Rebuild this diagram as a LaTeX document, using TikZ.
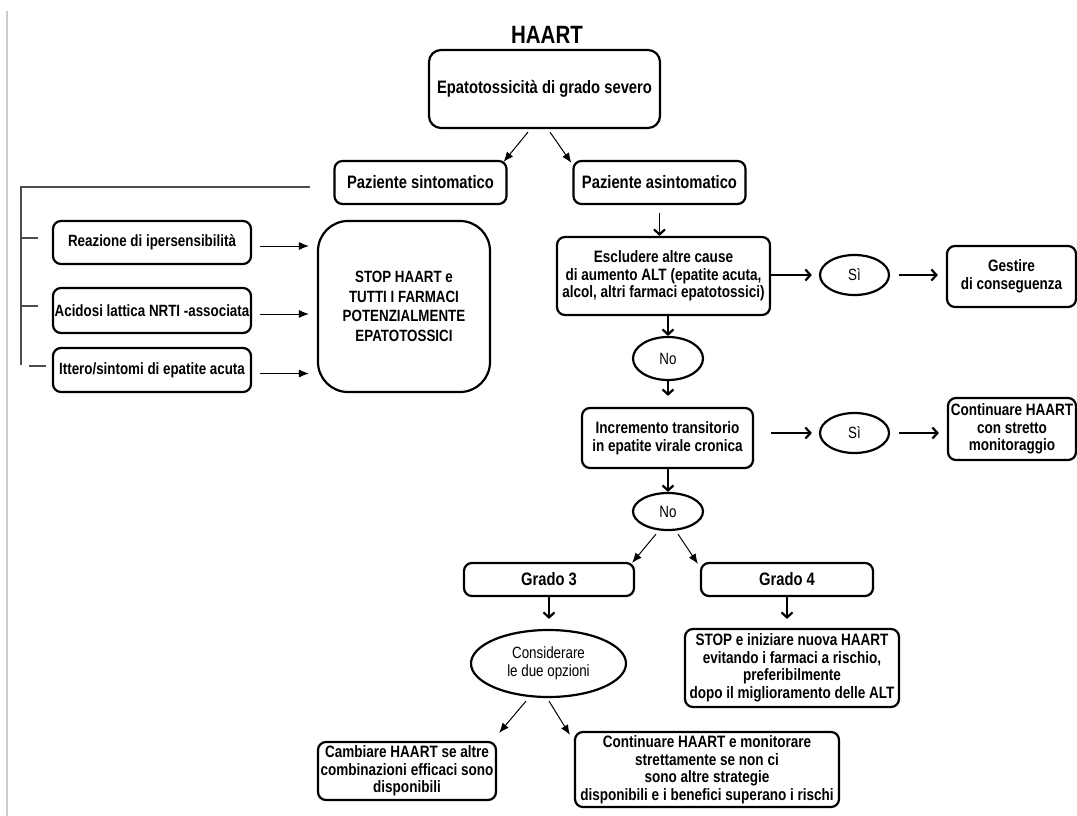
\documentclass[tikz,border=0pt]{standalone}
\usepackage{fontspec}
\setmainfont[FakeStretch=0.82]{Liberation Sans}
\usetikzlibrary{shapes.geometric,arrows.meta,calc}
\tikzset{
  box/.style={draw, line width=2.2pt, rounded corners=8pt, inner sep=0pt, align=center,
    font=\fontsize{16.5}{17.5}\selectfont\bfseries},
  bigtext/.style={font=\fontsize{18}{20}\selectfont\bfseries},
  oval/.style={draw, ellipse, line width=2.2pt, inner sep=0pt, align=center,
    font=\fontsize{16.3}{18}\selectfont},
  tri/.style={line width=1pt, -{Latex[length=10pt,width=8pt]}},
  chev/.style={line width=1.2pt, -{Straight Barb[length=5pt,width=11pt,line width=2.2pt]}},
  brk/.style={line width=1.3pt, draw=black!70},
}
\begin{document}
\begin{tikzpicture}[x=1pt,y=-1pt]
\useasboundingbox (0,0) rectangle (1077,816);
\fill[white] (0,0) rectangle (1077,816);
\draw[line width=1.5pt, black!20] (7,11) -- (7,816);

\node[font=\fontsize{25}{28}\selectfont\bfseries] (title) at (547,35) {HAART};
\node[box, bigtext, rounded corners=12pt, minimum width=231, minimum height=78] (E) at (544.5,89) {Epatotossicità di grado severo};
\node[box, bigtext, minimum width=172, minimum height=43] (PS) at (420.5,182.5) {Paziente sintomatico};
\node[box, bigtext, minimum width=172, minimum height=43] (PA) at (659.5,182.5) {Paziente asintomatico};

% left branch
\node[box, font=\fontsize{16.3}{17.5}\selectfont\bfseries, minimum width=198, minimum height=43] (R1) at (152,242.5) {Reazione di ipersensibilità};
\node[box, font=\fontsize{16.3}{17.5}\selectfont\bfseries, minimum width=198, minimum height=45] (R2) at (152,310.5) {Acidosi lattica NRTI -associata};
\node[box, font=\fontsize{16.3}{17.5}\selectfont\bfseries, minimum width=198, minimum height=44] (R3) at (152,370) {Ittero/sintomi di epatite acuta};
\node[box, font=\fontsize{16.3}{19.5}\selectfont\bfseries, rounded corners=30pt, minimum width=172, minimum height=171] (Stop) at (404,306.5) {STOP HAART e\\TUTTI I FARMACI\\POTENZIALMENTE\\EPATOTOSSICI};

% right branch
\node[box, minimum width=213, minimum height=78] (Esc) at (663.5,276) {Escludere altre cause\\ di aumento ALT (epatite acuta,\\alcol, altri farmaci epatotossici)};
\node[oval, minimum width=69, minimum height=40] (S1) at (854.5,275) {Sì};
\node[box, minimum width=129, minimum height=61] (Ges) at (1011.5,276.5) {Gestire\\di conseguenza};
\node[oval, minimum width=70, minimum height=43] (N1) at (668,358.5) {No};
\node[box, minimum width=171, minimum height=60] (Inc) at (667.5,438) {Incremento transitorio\\in epatite virale cronica};
\node[oval, minimum width=69, minimum height=40] (S2) at (854.5,433) {Sì};
\node[box, minimum width=128, minimum height=62] (C1) at (1012,429) {Continuare HAART\\con stretto\\monitoraggio};
\node[oval, minimum width=70, minimum height=37] (N2) at (668,511.5) {No};
\node[box, bigtext, minimum width=170, minimum height=33] (G3) at (549,579.5) {Grado 3};
\node[box, bigtext, minimum width=172, minimum height=33] (G4) at (787,579.5) {Grado 4};
\node[oval, minimum width=155, minimum height=67] (Cons) at (548.5,663.5) {Considerare\\le due opzioni};
\node[box, minimum width=214, minimum height=78] (St2) at (792,668) {STOP e iniziare nuova HAART\\evitando i farmaci a rischio,\\preferibilmente\\dopo il miglioramento delle ALT};
\node[box, minimum width=178, minimum height=58] (Camb) at (407,771) {Cambiare HAART se altre\\combinazioni efficaci sono\\disponibili};
\node[box, minimum width=264, minimum height=75] (C2) at (707,769.5) {Continuare HAART e monitorare\\strettamente se non ci\\sono altre strategie\\disponibili e i benefici superano i rischi};

% bracket on the left
\coordinate (bA) at (310,187);
\coordinate (bB) at (21,187);
\coordinate (bC) at (21,365);
\draw[brk] (bA) -- (bB) -- (bC);
\draw[brk] (21,238) -- (38,238);
\draw[brk] (21,306) -- (38,306);
\draw[brk] (29,366) -- (46,366);

% connectors
\draw[tri] ($(E.south)+(-16.5,3)$) -- ($(PS.north east)+(-4,2)$);
\draw[tri] ($(E.south)+(5.5,3)$) -- ($(PA.north west)+(-1,3)$);
\foreach \r in {R1,R2,R3}{
  \draw[tri] ($(\r.east)+(8,3.5)$) -- ($(Stop.west |- \r.east)+(-8,3.5)$);
}
\draw[chev] ($(PA.south)+(0,8)$) -- (PA.south |- Esc.north);
\draw[chev, shorten >=7pt] (Esc.east |- S1.west) -- (S1.west);
\draw[chev, shorten <=9pt, shorten >=8pt] (S1.east) -- (S1.east -| Ges.west);
\draw[chev] (N1.north |- Esc.south) -- (N1.north);
\draw[chev, shorten >=11pt] (N1.south) -- (N1.south |- Inc.north);
\draw[chev, shorten <=17pt, shorten >=7pt] (Inc.east |- S2.west) -- (S2.west);
\draw[chev, shorten <=9pt, shorten >=8pt] (S2.east) -- (S2.east -| C1.west);
\draw[chev] (N2.north |- Inc.south) -- (N2.north);
\draw[tri] ($(N2.south)+(-12,3)$) -- ($(G3.north east)+(-3,1)$);
\draw[tri] ($(N2.south)+(10,3)$) -- ($(G4.north west)+(-2,2)$);
\draw[chev, shorten >=10pt] (G3.south) -- (G3.south |- Cons.north);
\draw[chev, shorten >=9pt] (G4.south) -- (G4.south |- St2.north);
\draw[tri] ($(Cons.south)+(-22.5,3)$) -- ($(Camb.north east)+(2,-8)$);
\draw[tri] ($(Cons.south)+(0.5,3)$) -- ($(C2.north west)+(-4,4)$);
\end{tikzpicture}
\end{document}
